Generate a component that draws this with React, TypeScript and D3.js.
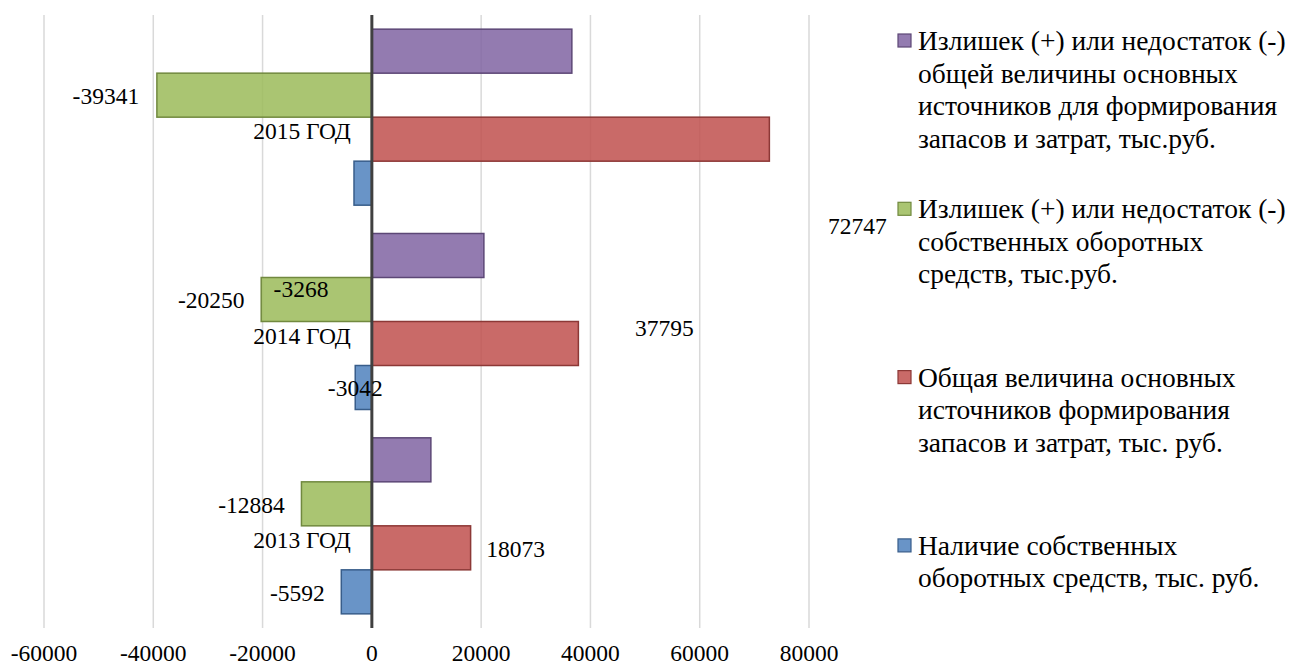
import * as d3 from 'd3';

// categories, top to bottom as drawn
const years = ['2015 ГОД', '2014 ГОД', '2013 ГОД'];

// series (top bar in each group first)
const seriesKeys = ['surplusTotal', 'surplusOwn', 'totalSources', 'ownWorking'];
const surplusTotal = [36600, 20500, 10800];
const surplusOwn = [-39341, -20250, -12884];
const totalSources = [72747, 37795, 18073];
const ownWorking = [-3268, -3042, -5592];

const xTicks = [-60000, -40000, -20000, 0, 20000, 40000, 60000, 80000];

const legendLines = [
  ['Излишек (+) или недостаток (-)', 'общей величины основных', 'источников для формирования', 'запасов и затрат, тыс.руб.'],
  ['Излишек (+) или недостаток (-)', 'собственных оборотных', 'средств, тыс.руб.'],
  ['Общая величина основных', 'источников формирования', 'запасов и затрат, тыс. руб.'],
  ['Наличие собственных', 'оборотных средств, тыс. руб.'],
];

const fills = ['#8064A2', '#9BBB59', '#C0504D', '#4F81BD'];
const strokes = ['#5C4776', '#71893F', '#8C3836', '#385D8A'];

// hand-dragged data label offsets (px from bar end / bar centre), purple has none
const labelShift: ([number, number] | null)[][] = [
  [null, null, null],
  [[-51, 9], [-50, 9], [-50, 9]],
  [[88, 95], [86, -8], [45, 9]],
  [[-53, 114], [0, 8], [-44, 9]],
];

const W = 1296;
const H = 666;
const txt = { fontFamily: "'Liberation Serif'" };

export default function App() {
  const values = [surplusTotal, surplusOwn, totalSources, ownWorking];
  const x = d3.scaleLinear().domain([-60000, 80000]).range([44, 809]);
  const y = d3.scaleBand().domain(years).range([15, 628]).paddingInner(0.1386).paddingOuter(0.0693);
  const inner = d3.scaleBand().domain(seriesKeys).range([0, y.bandwidth()]);
  const x0 = x(0);

  return (
    <svg width={W} height={H} style={{ position: 'absolute', left: 0, top: 0, background: '#fff', fontFamily: "'Liberation Serif'" }}>
      {/* gridlines */}
      {xTicks.filter(t => t !== 0).map(t => (
        <line key={t} x1={x(t)} x2={x(t)} y1={15} y2={628} stroke="#D9D9D9" strokeWidth={1.5} />
      ))}

      {/* bars */}
      {seriesKeys.map((k, si) =>
        years.map((yr, i) => {
          const v = values[si][i];
          const by = y(yr)! + inner(k)!;
          return (
            <rect key={k + yr} x={Math.min(x(v), x0)} y={by} width={Math.abs(x(v) - x0)} height={inner.bandwidth()}
              fill={fills[si]} fillOpacity={0.85} stroke={strokes[si]} strokeWidth={1.5} />
          );
        })
      )}

      {/* zero axis */}
      <line x1={x0} x2={x0} y1={15} y2={628} stroke="#404040" strokeWidth={3} />

      {/* category labels */}
      {years.map(yr => (
        <text key={yr} x={x0 - 21} y={y(yr)! + y.bandwidth() / 2 + 14 + 8} textAnchor="end" fontSize={23.5} fill="#000" style={txt}>{yr}</text>
      ))}

      {/* data labels */}
      {seriesKeys.map((k, si) =>
        years.map((yr, i) => {
          const s = labelShift[si][i];
          if (!s) return null;
          const v = values[si][i];
          const cy = y(yr)! + inner(k)! + inner.bandwidth() / 2;
          return (
            <text key={'l' + k + yr} x={x(v) + s[0]} y={cy + s[1]} textAnchor="middle" fontSize={23.5} fill="#000" style={txt}>{v}</text>
          );
        })
      )}

      {/* x tick labels */}
      {xTicks.map(t => (
        <text key={'t' + t} x={x(t)} y={661} textAnchor="middle" fontSize={23.5} fill="#000" style={txt}>{t}</text>
      ))}

      {/* legend */}
      {legendLines.map((lines, li) => {
        const base = 50 + li * 168.3;
        return (
          <g key={'lg' + li}>
            <rect x={898} y={base - 16} width={13} height={13} fill={fills[li]} fillOpacity={0.85} stroke={strokes[li]} strokeWidth={1.2} />
            {lines.map((ln, j) => (
              <text key={j} x={918} y={base + j * 32.5} fontSize={27.5} fill="#000" style={txt}>{ln}</text>
            ))}
          </g>
        );
      })}
    </svg>
  );
}
